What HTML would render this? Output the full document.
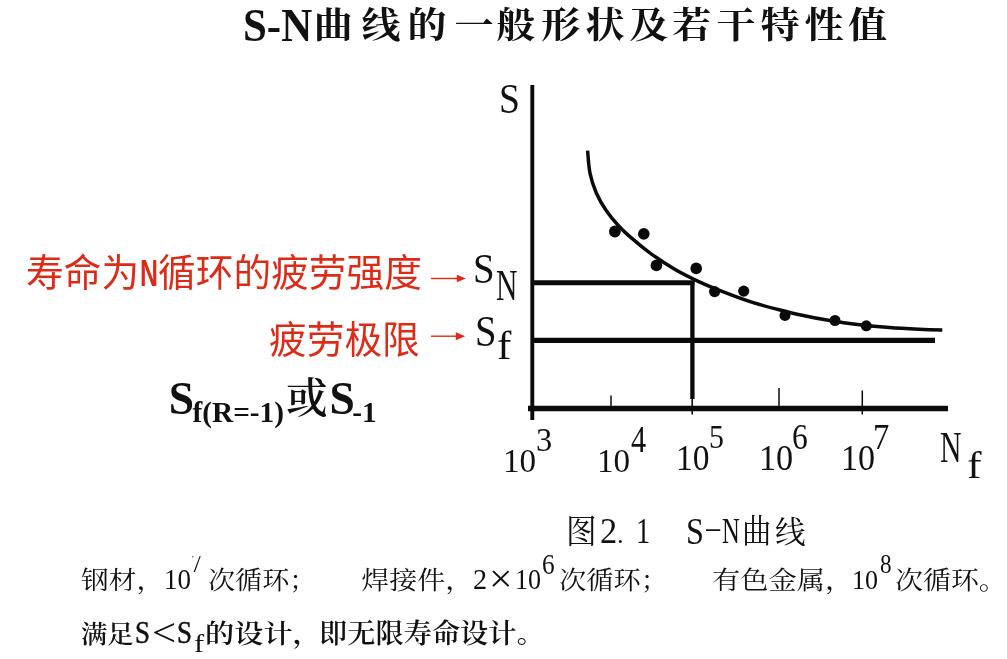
<!DOCTYPE html>
<html lang="zh-CN">
<head>
<meta charset="utf-8">
<title>S-N曲线的一般形状及若干特性值</title>
<style>
html,body{margin:0;padding:0;background:#fff;}
body{width:1007px;height:659px;position:relative;overflow:hidden;color:#111;
  font-family:"Liberation Serif","Noto Serif CJK SC",serif;}
h1,p,div.ln{margin:0;padding:0;font-size:inherit;font-weight:inherit;}
.t{position:absolute;white-space:nowrap;line-height:1;margin:0;padding:0;}
.hei{font-family:"Liberation Sans","Noto Sans CJK SC",sans-serif;color:#dc2c18;}
.b{font-weight:700;}
svg{position:absolute;left:0;top:0;}
.g{position:absolute;white-space:nowrap;line-height:1;transform-origin:0 0;font-weight:400;vertical-align:baseline;
  font-family:"Liberation Serif","Noto Serif CJK SC",serif;}
.mask{position:absolute;left:188px;top:544px;width:18px;height:12.4px;background:#fff;}
</style>
</head>
<body>
<!-- title -->
<h1 class="ttl"><span class="g" style="left:243.4px;top:2.5px;font-size:42px;font-weight:700;transform:scale(1.021,1.086);">S-N</span><span class="g tc" style="left:313.8px;top:7.1px;font-size:39px;font-weight:700;transform:scale(1,0.933);"><span style="letter-spacing:8.7px">曲</span><span style="letter-spacing:6.9px">线</span><span style="letter-spacing:8.0px">的</span><span style="letter-spacing:2.8px">一</span><span style="letter-spacing:6.1px">般</span><span style="letter-spacing:5.2px">形</span><span style="letter-spacing:4.7px">状</span><span style="letter-spacing:4.1px">及</span><span style="letter-spacing:5.1px">若干特</span><span style="letter-spacing:4.3px">性</span><span style="letter-spacing:0.0px">值</span></span></h1>

<!-- graph -->
<svg width="1007" height="659" viewBox="0 0 1007 659">
  <g fill="none" stroke="#0a0a0a" stroke-linecap="butt">
    <line x1="532.3" y1="85" x2="532.3" y2="420" stroke-width="3.9"/>
    <line x1="528" y1="408.5" x2="948" y2="408.5" stroke-width="5.6"/>
    <line x1="532" y1="282.8" x2="694.5" y2="282.8" stroke-width="5.1"/>
    <line x1="532" y1="340.4" x2="935" y2="340.4" stroke-width="5.3"/>
    <line x1="692.4" y1="281" x2="692.4" y2="399" stroke-width="4.3"/>
    <line x1="692.2" y1="399" x2="692.2" y2="414.6" stroke-width="1.6"/>
    <line x1="611" y1="395.5" x2="611" y2="406" stroke-width="1.5"/>
    <line x1="779" y1="388" x2="779" y2="411" stroke-width="1.5"/>
    <line x1="862.3" y1="390.5" x2="862.3" y2="414.5" stroke-width="1.5"/>
    <path stroke-width="3.5" d="M587.6,150.6 C588.0,154.4 588.5,166.1 590.0,173.2 C591.4,180.3 593.6,186.8 596.3,193.0 C599.0,199.2 602.4,205.0 606.2,210.5 C609.9,216.0 614.3,221.2 618.8,226.0 C623.2,230.8 627.4,234.6 632.8,239.2 C638.2,243.9 644.1,248.8 651.1,253.8 C658.1,258.8 666.6,264.5 674.7,269.2 C682.7,273.9 691.0,277.9 699.3,281.8 C707.6,285.6 716.0,289.0 724.7,292.4 C733.4,295.8 742.7,299.3 751.6,302.1 C760.5,305.0 769.7,307.3 778.1,309.5 C786.5,311.7 793.4,313.5 802.0,315.3 C810.6,317.2 820.2,319.1 829.8,320.6 C839.4,322.2 849.7,323.6 859.6,324.8 C869.5,326.0 879.5,326.9 889.4,327.6 C899.3,328.4 910.0,328.9 918.8,329.3 C927.6,329.7 938.4,330.0 942.3,330.1"/>
  </g>
  <g fill="#0a0a0a">
    <circle cx="614.9" cy="231.5" r="5.9"/>
    <circle cx="643.8" cy="233.9" r="5.8"/>
    <circle cx="656.4" cy="265.4" r="5.8"/>
    <circle cx="696.2" cy="268.4" r="5.8"/>
    <circle cx="714.6" cy="291.6" r="5.6"/>
    <circle cx="743.7" cy="291.1" r="5.6"/>
    <circle cx="785.0" cy="315.4" r="5.5"/>
    <circle cx="835.0" cy="320.5" r="5.5"/>
    <circle cx="866.3" cy="325.8" r="5.5"/>
  </g>
  <g stroke="#dc2c18" fill="#dc2c18" stroke-width="1.4">
    <line x1="431" y1="278.5" x2="460" y2="278.5"/>
    <polygon points="456.8,274.7 466,278.5 456.8,282.3" stroke="none"/>
    <line x1="431" y1="336.2" x2="459" y2="336.2"/>
    <polygon points="455.8,332.2 465.2,336.2 455.8,340.2" stroke="none"/>
  </g>
</svg>

<!-- axis labels -->
<div class="ln"><span class="g" style="left:499.0px;top:78.7px;font-size:40px;transform:scale(0.939,1.031);">S</span></div>
<div class="ln"><span class="g" style="left:472.6px;top:248.1px;font-size:40px;transform:scale(0.972,1.065);">S</span><sub class="g" style="left:496.2px;top:262.7px;font-size:40px;transform:scale(0.741,1.108);">N</sub></div>
<div class="ln"><span class="g" style="left:474.9px;top:310.3px;font-size:40px;transform:scale(0.967,1.085);">S</span><sub class="g" style="left:497.3px;top:326.7px;font-size:40px;transform:scale(1.077,0.976);">f</sub></div>
<div class="ln"><span class="g" style="left:502.6px;top:443.9px;font-size:34px;transform:scale(0.974,1.009);">10</span><sup class="g" style="left:536.1px;top:423.2px;font-size:34px;transform:scale(0.953,1.009);">3</sup></div>
<div class="ln"><span class="g" style="left:597.2px;top:443.9px;font-size:34px;transform:scale(0.974,1.009);">10</span><sup class="g" style="left:630.8px;top:421.1px;font-size:34px;transform:scale(0.888,1.100);">4</sup></div>
<div class="ln"><span class="g" style="left:675.6px;top:440.8px;font-size:34px;transform:scale(0.987,1.041);">10</span><sup class="g" style="left:709.4px;top:420.0px;font-size:34px;transform:scale(0.880,1.014);">5</sup></div>
<div class="ln"><span class="g" style="left:759.1px;top:441.1px;font-size:34px;transform:scale(1.006,1.027);">10</span><sup class="g" style="left:792.1px;top:419.8px;font-size:34px;transform:scale(0.927,1.045);">6</sup></div>
<div class="ln"><span class="g" style="left:840.5px;top:441.1px;font-size:34px;transform:scale(1.003,1.050);">10</span><sup class="g" style="left:872.7px;top:419.0px;font-size:34px;transform:scale(0.960,1.073);">7</sup></div>
<div class="ln"><span class="g" style="left:940.2px;top:426.2px;font-size:40px;transform:scale(0.744,1.088);">N</span><sub class="g" style="left:967.1px;top:446.1px;font-size:40px;transform:scale(1.092,0.969);">f</sub></div>

<!-- red labels -->
<div class="t hei" style="left:26px;top:255px;font-size:37.7px;">寿命为<span style="display:inline-block;transform:scaleX(0.66);transform-origin:left center;width:19px;margin-left:1px;margin-right:-1px;font-weight:700;">N</span>循环的疲劳强度</div>
<div class="t hei" style="left:269px;top:322px;font-size:37.7px;">疲劳极限</div>

<!-- formula -->
<div class="t b" style="left:168.7px;top:376px;font-size:45.5px;"><span style="letter-spacing:-1px;">S</span><sub style="font-size:29.3px;position:relative;top:7.6px;margin-left:-0.5px;vertical-align:baseline;">f(R=-1)</sub><span style="font-weight:600;font-size:41.5px;margin:0 2px 0 2px;position:relative;top:-1px;">或</span>S<sub style="font-size:29.3px;position:relative;top:7.8px;margin-left:-2.5px;vertical-align:baseline;">-1</sub></div>

<!-- caption -->
<p><span class="g" style="left:566.1px;top:516.3px;font-size:34px;transform:scale(0.900,0.961);">图</span><span class="g" style="left:600.0px;top:514.3px;font-size:34px;transform:scale(1.013,1.027);">2</span><span class="g" style="left:617.1px;top:522.0px;font-size:34px;transform:scale(0.780,0.760);">.</span><span class="g" style="left:635.8px;top:514.3px;font-size:34px;transform:scale(0.838,1.027);">1</span>  <span class="g" style="left:685.8px;top:512.6px;font-size:34px;transform:scale(0.947,1.095);">S</span><span class="g" style="left:703.6px;top:517.3px;font-size:34px;transform:scale(1.610,0.667);">-</span><span class="g" style="left:722.0px;top:513.4px;font-size:34px;transform:scale(0.725,1.059);">N</span><span class="g" style="left:742.0px;top:516.3px;font-size:34px;transform:scale(0.866,0.969);">曲</span><span class="g" style="left:775.3px;top:517.1px;font-size:34px;transform:scale(0.900,0.912);">线</span></p>

<!-- bottom lines -->
<p><span class="g" style="left:80.6px;top:567.8px;font-size:28px;transform:scale(0.992,0.893);">钢材，</span><span class="g" style="left:164.4px;top:565.0px;font-size:28px;transform:scale(0.964,1.033);">10</span><sup class="g" style="left:191.4px;top:547.3px;font-size:24px;transform:scale(0.927,1.253);">7</sup><span class="g" style="left:207.5px;top:567.8px;font-size:28px;transform:scale(0.967,0.911);">次循环；</span>  <span class="g" style="left:361.3px;top:567.8px;font-size:28px;transform:scale(1.000,0.893);">焊接件，</span><span class="g" style="left:472.8px;top:564.8px;font-size:28px;transform:scale(1.008,1.050);">2</span><span class="g" style="left:488.6px;top:560.2px;font-size:28px;transform:scale(1.492,1.408);">×</span><span class="g" style="left:514.7px;top:564.5px;font-size:28px;transform:scale(0.932,1.050);">10</span><sup class="g" style="left:542.4px;top:550.4px;font-size:24px;transform:scale(1.055,1.187);">6</sup><span class="g" style="left:558.5px;top:567.8px;font-size:28px;transform:scale(0.972,0.911);">次循环；</span>  <span class="g" style="left:711.5px;top:567.8px;font-size:28px;transform:scale(1.008,0.893);">有色金属，</span><span class="g" style="left:852.4px;top:565.5px;font-size:28px;transform:scale(0.928,1.011);">10</span><sup class="g" style="left:879.8px;top:550.0px;font-size:24px;transform:scale(0.967,1.160);">8</sup><span class="g" style="left:894.6px;top:567.6px;font-size:28px;transform:scale(0.998,0.893);">次循环。</span></p>
<div class="mask"></div>
<p><span class="g" style="left:81.3px;top:622.0px;font-size:28px;font-weight:600;transform:scale(0.941,0.904);">满足</span><span class="g" style="left:134.8px;top:617.2px;font-size:28px;-webkit-text-stroke:0.5px #111;transform:scale(0.962,1.139);">S</span><span class="g" style="left:152.2px;top:614.0px;font-size:28px;transform:scale(1.529,1.400);">&lt;</span><span class="g" style="left:176.8px;top:617.2px;font-size:28px;-webkit-text-stroke:0.5px #111;transform:scale(0.962,1.139);">S</span><sub class="g" style="left:193.5px;top:630.6px;font-size:26px;transform:scale(1.167,0.994);">f</sub><span class="g" style="left:205.2px;top:622.0px;font-size:28px;font-weight:600;transform:scale(1.043,0.921);">的设计，</span><span class="g" style="left:318.6px;top:621.2px;font-size:28px;font-weight:600;transform:scale(1.008,0.956);">即无限寿命设计。</span></p>
</body>
</html>
